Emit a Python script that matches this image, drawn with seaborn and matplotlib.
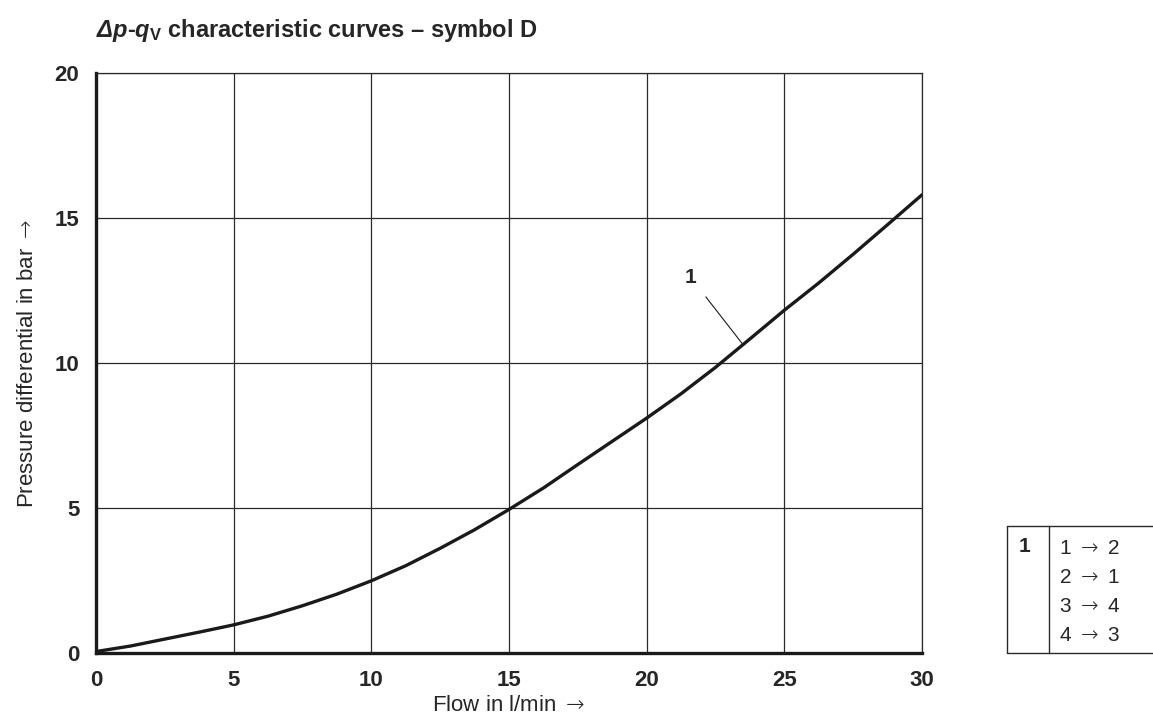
import matplotlib
matplotlib.use("Agg")
import matplotlib.pyplot as plt
from matplotlib.lines import Line2D
import pandas as pd
import seaborn as sns

# curve 1
flow = [0, 1.25, 2.5, 3.75, 5, 6.25, 7.5, 8.75, 10, 11.25, 12.5, 13.75, 15,
        16.25, 17.5, 18.75, 20, 21.25, 22.5, 23.75, 25, 26.25, 27.5, 28.75, 30]
dp = [0.05, 0.24, 0.48, 0.72, 0.97, 1.27, 1.63, 2.03, 2.49, 3.01, 3.61, 4.25, 4.95,
      5.69, 6.5, 7.3, 8.1, 8.94, 9.85, 10.83, 11.82, 12.76, 13.75, 14.77, 15.8]
x_ticks = [0, 5, 10, 15, 20, 25, 30]
y_ticks = [0, 5, 10, 15, 20]
ARROW = "$\\mathsf{\\rightarrow}$"
table_rows = ["1 " + ARROW + " 2", "2 " + ARROW + " 1",
              "3 " + ARROW + " 4", "4 " + ARROW + " 3"]

sns.set_style("white")
plt.rcParams["font.family"] = ["Liberation Sans", "DejaVu Sans"]
plt.rcParams["mathtext.fontset"] = "custom"
# Greek capitals are always set in the rm font, so rm is bold italic here
plt.rcParams["mathtext.rm"] = "Liberation Sans:italic:bold"
plt.rcParams["mathtext.it"] = "Liberation Sans:italic:bold"
plt.rcParams["mathtext.bf"] = "Liberation Sans:bold"
plt.rcParams["mathtext.sf"] = "DejaVu Sans:light"

df = pd.DataFrame({"flow": flow, "dp": dp})

fig = plt.figure(figsize=(11.53, 7.16), dpi=100)
ax = fig.add_axes([96 / 1153, 63 / 716, 826 / 1153, 580 / 716])

sns.lineplot(data=df, x="flow", y="dp", color="#1a1a1a", lw=2.4, ax=ax)

ax.set_xlim(0, 30)
ax.set_ylim(0, 20)
ax.set_xticks(x_ticks)
ax.set_yticks(y_ticks)
ax.grid(True, color="#2a2a2a", lw=0.9)
ax.tick_params(length=0, pad=12)
for lab in ax.get_xticklabels() + ax.get_yticklabels():
    lab.set_fontweight("bold")
    lab.set_fontsize(16)
    lab.set_family(["Liberation Sans Narrow", "Liberation Sans"])

for s in ["left", "bottom"]:
    ax.spines[s].set_linewidth(2.4)
    ax.spines[s].set_color("#1a1a1a")
for s in ["top", "right"]:
    ax.spines[s].set_linewidth(0.9)
    ax.spines[s].set_color("#2a2a2a")

ax.set_xlabel("Flow in l/min " + ARROW, fontsize=16, labelpad=3)
ax.set_ylabel("Pressure differential in bar " + ARROW, fontsize=16, labelpad=12)

ax.annotate("1", xy=(23.47, 10.67), xytext=(21.6, 12.95), fontsize=15,
            fontweight="bold", ha="center", va="center",
            arrowprops=dict(arrowstyle="-", lw=0.8, color="#1a1a1a",
                            shrinkA=7, shrinkB=0))

fig.text(96 / 1153, 1 - 30 / 716,
         "$\\Delta p$-$q_{\\mathbf{V}}$ characteristic curves \u2013 symbol D",
         fontsize=17, fontweight="bold", va="center", ha="left")

# legend table bottom right
W, H = 1153, 716
x0, x1, xr = 1007 / W, 1049 / W, 1.0
yt, yb = 1 - 526 / H, 1 - 653 / H
for xs, ys in [([x0, xr], [yt, yt]), ([x0, xr], [yb, yb]),
               ([x0, x0], [yt, yb]), ([x1, x1], [yt, yb])]:
    fig.add_artist(Line2D(xs, ys, color="#2a2a2a", lw=1.0, transform=fig.transFigure))
fig.text(1019 / W, 1 - 547 / H, "1", fontsize=15, fontweight="bold", va="center", ha="left")
for i, row in enumerate(table_rows):
    fig.text(1059 / W, 1 - (548 + 29.3 * i) / H, row, fontsize=15, va="center", ha="left")

fig.savefig("out.png", dpi=100, facecolor="white")
